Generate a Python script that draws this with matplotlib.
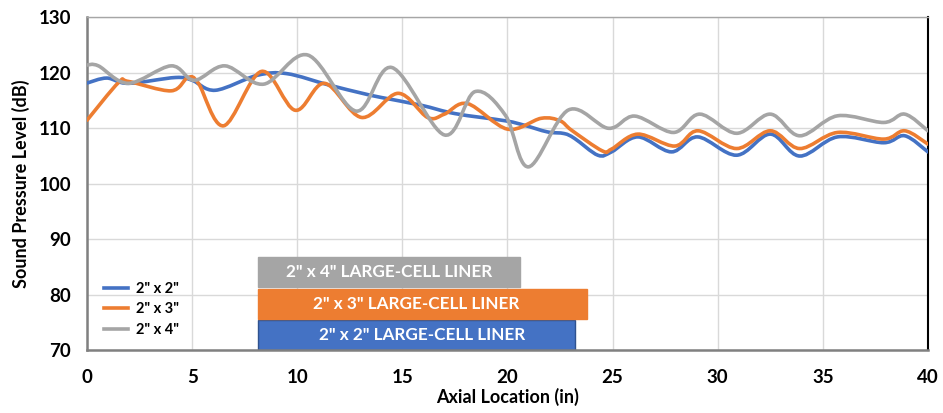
import numpy as np
import matplotlib
matplotlib.use("Agg")
import matplotlib.pyplot as plt
from matplotlib.path import Path
from matplotlib.patches import PathPatch
from matplotlib.lines import Line2D

plt.rcParams['font.family'] = ['Lato', 'DejaVu Sans']

# Sound pressure level along the duct (axial location in inches, SPL in dB)
x_2x2 = [0, 0.94, 1.96, 4.2, 5.0, 6.1, 8.1, 9.5, 11.5, 13.1, 14.0, 15.9, 17.5,
         19.9, 20.8, 21.9, 22.7, 23.2, 24.3, 24.95, 26.2, 27.8, 29.05, 30.9,
         32.5, 33.9, 35.7, 37.9, 38.9, 40]
y_2x2 = [118.1, 119.0, 118.05, 119.1, 118.6, 116.8, 119.5, 119.8, 117.75, 116.25,
         115.5, 114.1, 112.6, 111.3, 110.5, 109.3, 109.0, 108.1, 105.1, 105.7,
         108.4, 105.7, 108.4, 105.1, 108.9, 104.95, 108.4, 107.35, 108.6, 105.7]

x_2x3 = [0, 1.5, 1.96, 4.0, 4.8, 5.3, 6.5, 8.3, 9.9, 11.3, 13.06, 14.8,
         16.2, 17.0, 18.1, 20.0, 21.6, 22.5, 23.05, 24.5, 24.95, 26.2, 27.96,
         29.07, 30.9, 32.5, 33.9, 35.7, 37.9, 38.9, 40]
y_2x3 = [111.4, 118.2, 118.4, 116.7, 119.1, 118.05, 110.4, 120.2, 113.2,
         118.05, 111.9, 116.25, 111.9, 112.5, 114.4, 109.8, 111.75, 111.3, 109.6,
         105.9, 106.2, 108.9, 106.75, 109.5, 106.3, 109.5, 106.3, 109.2, 108.0,
         109.5, 107.1]

x_2x4 = [0, 0.54, 1.96, 4.0, 5.1, 6.56, 8.4, 10.5, 12.8, 14.5, 17.0, 18.45,
         19.9, 21.0, 22.9, 24.8, 26.05, 27.9, 29.15, 30.9, 32.5, 33.9, 35.7,
         37.9, 38.9, 40]
y_2x4 = [121.35, 121.2, 118.05, 121.2, 118.6, 121.2, 117.9, 123.15, 113.05, 120.9,
         108.75, 116.55, 112.3, 103.0, 113.25, 109.95, 112.15, 109.2, 112.5,
         109.05, 112.5, 108.6, 112.2, 111.0, 112.5, 109.5]

series_names = ['2" x 2"', '2" x 3"', '2" x 4"']
colors = ['#4472C4', '#ED7D31', '#A5A5A5']

# Axial extent of each large-cell liner (start, end) in inches
liner_labels = ['2" x 2" LARGE-CELL LINER', '2" x 3" LARGE-CELL LINER',
                '2" x 4" LARGE-CELL LINER']
liner_start = [8.13, 8.13, 8.13]
liner_end = [23.2, 23.8, 20.6]
liner_label_x = [15.93, 15.64, 14.36]
liner_rows = [72.75, 78.25, 84.0]   # SPL level at which each band is centred
liner_height = 5.4

x_ticks = [0, 5, 10, 15, 20, 25, 30, 35, 40]
y_ticks = [70, 80, 90, 100, 110, 120, 130]


def smooth_path(xs, ys):
    """Cardinal (Catmull-Rom) Bezier path through the points, like a smoothed line."""
    p = np.column_stack([xs, ys]).astype(float)
    n = len(p)
    verts = [p[0]]
    codes = [Path.MOVETO]
    for i in range(n - 1):
        p0 = p[i - 1] if i > 0 else p[i]
        p1 = p[i]
        p2 = p[i + 1]
        p3 = p[i + 2] if i + 2 < n else p[i + 1]
        c1 = p1 + (p2 - p0) / 6.0
        c2 = p2 - (p3 - p1) / 6.0
        verts += [c1, c2, p2]
        codes += [Path.CURVE4] * 3
    return Path(np.array(verts), codes)


fig = plt.figure(figsize=(9.43, 4.13), dpi=100)
ax = fig.add_axes([0.0923, 0.1525, 0.8917, 0.8063])

ax.set_xlim(0, 40)
ax.set_ylim(70, 130)
ax.set_xticks(x_ticks)
ax.set_yticks(y_ticks)
ax.grid(True, color='#D9D9D9', lw=1.0, zorder=0)
ax.set_axisbelow(True)
ax.tick_params(axis='x', length=0, labelsize=13.5, pad=14)
ax.tick_params(axis='y', length=0, labelsize=13.5, pad=11.5)
for lbl in ax.get_xticklabels() + ax.get_yticklabels():
    lbl.set_fontweight('bold')

for side in ['left', 'bottom']:
    ax.spines[side].set_color('#808080')
    ax.spines[side].set_linewidth(1.8)
ax.spines['top'].set_color('#A6A6A6')
ax.spines['top'].set_linewidth(1.0)
ax.spines['right'].set_color('black')
ax.spines['right'].set_linewidth(1.5)

for xs, ys, c in zip([x_2x2, x_2x3, x_2x4], [y_2x2, y_2x3, y_2x4], colors):
    ax.add_patch(PathPatch(smooth_path(xs, ys), fill=False, edgecolor=c,
                           lw=2.6, capstyle='round', joinstyle='round', zorder=3))

# Liner extent bands
band_colors = ['#4472C4', '#ED7D31', '#A5A5A5']
band_edges = ['#2F528F', '#ED7D31', '#A5A5A5']
for lab, s, e, lx, yc, fc, ec in zip(liner_labels, liner_start, liner_end,
                                     liner_label_x, liner_rows, band_colors,
                                     band_edges):
    ax.barh(yc, e - s, left=s, height=liner_height, color=fc, edgecolor=ec,
            lw=1.0, zorder=2)
    ax.text(lx, yc, lab, ha='center', va='center', color='white',
            fontsize=12.3, fontweight='bold', zorder=4)

handles = [Line2D([], [], color=c, lw=2.6) for c in colors]
ax.legend(handles, series_names, loc='lower left', bbox_to_anchor=(0.005, 0.0),
          frameon=False, prop={'size': 10.5, 'weight': 'bold'},
          handlelength=1.6, handletextpad=0.6, labelspacing=0.45)

ax.set_xlabel('Axial Location (in)', fontsize=13, fontweight='bold', labelpad=1)
ax.set_ylabel('Sound Pressure Level (dB)', fontsize=13, fontweight='bold', labelpad=6)

fig.savefig('out.png', dpi=100)
